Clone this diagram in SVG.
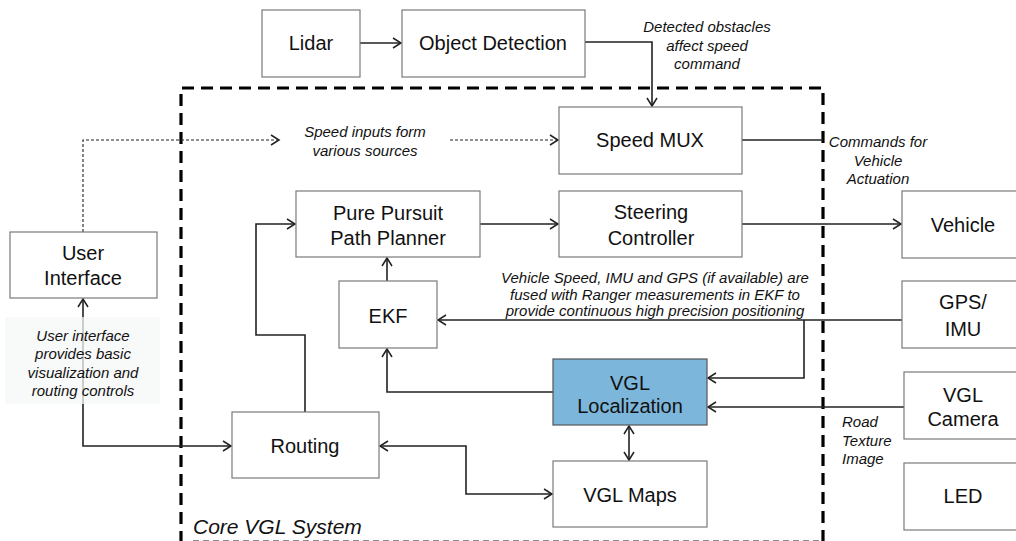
<svg xmlns="http://www.w3.org/2000/svg" width="1016" height="541" viewBox="0 0 1016 541">
<style>
.box{fill:#fff;stroke:#7a7a7a;stroke-width:1.2}
.loc{fill:#7cb7db;stroke:#555;stroke-width:1.2}
.t{font-family:"Liberation Sans",Arial,sans-serif;font-size:20px;fill:#111;text-anchor:middle;dominant-baseline:central}
.it{font-family:"Liberation Sans",Arial,sans-serif;font-size:15px;font-style:italic;fill:#111;text-anchor:middle;dominant-baseline:central}
.ln{fill:none;stroke:#222;stroke-width:1.6}
.dot{fill:none;stroke:#222;stroke-width:1.1;stroke-dasharray:3 2}
</style>
<defs>
<marker id="a" markerWidth="12" markerHeight="12" refX="9" refY="6" orient="auto-start-reverse" markerUnits="userSpaceOnUse">
<polyline points="1,1 9,6 1,11" fill="none" stroke="#222" stroke-width="1.5"/>
</marker>
</defs>
<rect width="1016" height="541" fill="#fff"/>
<g id="core-boundary">
<path d="M181,543 V88 H823 V543" fill="none" stroke="#000" stroke-width="3.2" stroke-dasharray="12 7"/>
<path d="M193,541 H823" fill="none" stroke="#000" stroke-opacity="0.45" stroke-width="2" stroke-dasharray="6 4"/>
<text x="193" y="526" style="font-family:'Liberation Sans',Arial,sans-serif;font-size:21px;font-style:italic;fill:#111;dominant-baseline:central">Core VGL System</text>
</g>
<g id="connectors">
<path class="ln" d="M360,43 H401" marker-end="url(#a)"/>
<path class="ln" d="M585,42 H652 V106" marker-end="url(#a)"/>
<path class="dot" d="M83,232 V140 H279" marker-end="url(#a)"/>
<path class="dot" d="M450,140 H558" marker-end="url(#a)"/>
<path class="ln" d="M742,140 H823"/>
<path class="ln" d="M480,224 H558" marker-end="url(#a)"/>
<path class="ln" d="M742,224 H901" marker-end="url(#a)"/>
<path class="ln" d="M305,412 V335 H256 V224 H295" marker-end="url(#a)"/>
<path class="ln" d="M387,281 V258" marker-end="url(#a)"/>
<path class="ln" d="M553,392 H387 V349" marker-end="url(#a)"/>
<path class="ln" d="M902,320 H438" marker-end="url(#a)"/>
<path class="ln" d="M804,320 V378 H708" marker-end="url(#a)"/>
<path class="ln" d="M904,407 H708" marker-end="url(#a)"/>
<path class="ln" d="M629,426 V460" marker-start="url(#a)" marker-end="url(#a)"/>
<path class="ln" d="M380,446 H466 V494 H552" marker-start="url(#a)" marker-end="url(#a)"/>
<path class="ln" d="M83,299 V446 H231" marker-start="url(#a)" marker-end="url(#a)"/>
</g>
<g id="labels">
<text class="it" x="707" y="26">Detected obstacles</text>
<text class="it" x="707" y="45">affect speed</text>
<text class="it" x="707" y="63">command</text>
<rect x="282" y="118" width="166" height="44" fill="#fff"/>
<text class="it" x="365" y="131">Speed inputs form</text>
<text class="it" x="365" y="150">various sources</text>
<text class="it" x="878" y="141">Commands for</text>
<text class="it" x="878" y="160">Vehicle</text>
<text class="it" x="878" y="178">Actuation</text>
<text class="it" x="655" y="277">Vehicle Speed, IMU and GPS (if available) are</text>
<text class="it" x="655" y="294">fused with Ranger measurements in EKF to</text>
<text class="it" x="655" y="310">provide continuous high precision positioning</text>
<rect x="5" y="317" width="155" height="87" fill="#f5f7f7" fill-opacity="0.75"/>
<text class="it" x="83" y="335">User interface</text>
<text class="it" x="83" y="353">provides basic</text>
<text class="it" x="83" y="372">visualization and</text>
<text class="it" x="83" y="390">routing controls</text>
<text class="it" x="842" y="421" style="text-anchor:start">Road</text>
<text class="it" x="842" y="440" style="text-anchor:start">Texture</text>
<text class="it" x="842" y="458" style="text-anchor:start">Image</text>
</g>
<g id="lidar"><rect class="box" x="262" y="10" width="98" height="67"/><text class="t" x="311" y="43">Lidar</text></g>
<g id="object-detection"><rect class="box" x="402" y="10" width="183" height="67"/><text class="t" x="493" y="43">Object Detection</text></g>
<g id="speed-mux"><rect class="box" x="559" y="107" width="183" height="67"/><text class="t" x="650" y="140">Speed  MUX</text></g>
<g id="pure-pursuit"><rect class="box" x="296" y="191" width="184" height="66"/><text class="t" x="388" y="213">Pure Pursuit</text><text class="t" x="388" y="238">Path Planner</text></g>
<g id="steering"><rect class="box" x="559" y="191" width="183" height="66"/><text class="t" x="651" y="212">Steering</text><text class="t" x="651" y="238">Controller</text></g>
<g id="vehicle"><rect class="box" x="902" y="191" width="120" height="67"/><text class="t" x="963" y="225">Vehicle</text></g>
<g id="user-interface"><rect class="box" x="10" y="232" width="147" height="66"/><text class="t" x="83" y="253">User</text><text class="t" x="83" y="278">Interface</text></g>
<g id="ekf"><rect class="box" x="339" y="281" width="98" height="67"/><text class="t" x="388" y="316">EKF</text></g>
<g id="gps-imu"><rect class="box" x="902" y="281" width="120" height="67"/><text class="t" x="963" y="302">GPS/</text><text class="t" x="963" y="329">IMU</text></g>
<g id="vgl-localization"><rect class="loc" x="553" y="359" width="154" height="66"/><text class="t" x="630" y="383">VGL</text><text class="t" x="630" y="406">Localization</text></g>
<g id="vgl-camera"><rect class="box" x="904" y="372" width="120" height="67"/><text class="t" x="963" y="395">VGL</text><text class="t" x="963" y="419">Camera</text></g>
<g id="routing"><rect class="box" x="232" y="412" width="147" height="66"/><text class="t" x="305" y="446">Routing</text></g>
<g id="vgl-maps"><rect class="box" x="553" y="461" width="154" height="66"/><text class="t" x="630" y="495">VGL Maps</text></g>
<g id="led"><rect class="box" x="904" y="463" width="120" height="67"/><text class="t" x="963" y="496">LED</text></g>
</svg>
